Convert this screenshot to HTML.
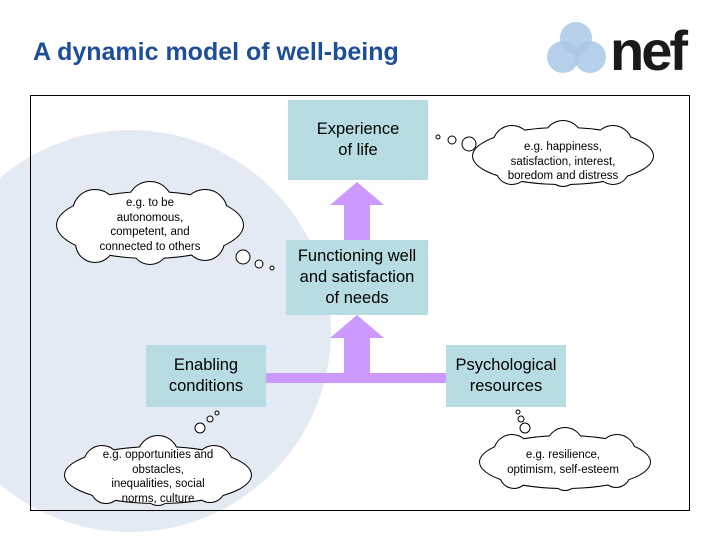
<!DOCTYPE html>
<html><head><style>
body{margin:0;width:720px;height:540px;background:#fff;overflow:hidden;position:relative;font-family:"Liberation Sans",Arial,sans-serif}
.t{position:absolute;left:33px;top:38px;font-size:25px;font-weight:bold;color:#1f4e99}
.box{position:absolute;background:#b7dde2;display:flex;align-items:center;justify-content:center;text-align:center;font-size:16.5px;line-height:21px;color:#000}
.ct{position:absolute;text-align:center;font-size:11.5px;line-height:14.5px;color:#000}
</style></head><body>
<div class="t">A dynamic model of well-being</div>
<svg width="720" height="540" style="position:absolute;left:0;top:0">
<defs>
<g id="c1">
<ellipse cx="150" cy="225" rx="93" ry="33"/>
<circle cx="95" cy="212" r="22"/><circle cx="150" cy="204" r="22"/><circle cx="205" cy="212" r="22"/>
<circle cx="95" cy="243" r="19"/><circle cx="150" cy="246" r="18"/><circle cx="205" cy="241" r="19"/>
</g>
<g id="c2">
<ellipse cx="563" cy="156" rx="90" ry="28"/>
<circle cx="512" cy="145" r="19"/><circle cx="563" cy="140" r="19"/><circle cx="613" cy="145" r="19"/>
<circle cx="512" cy="168" r="16"/><circle cx="563" cy="172" r="14"/><circle cx="613" cy="168" r="16"/>
</g>
<g id="c3">
<ellipse cx="158" cy="475" rx="93" ry="28"/>
<circle cx="102" cy="464" r="18"/><circle cx="158" cy="456" r="20"/><circle cx="214" cy="464" r="18"/>
<circle cx="106" cy="488" r="15"/><circle cx="158" cy="492" r="13"/><circle cx="210" cy="487" r="15"/>
</g>
<g id="c4">
<ellipse cx="565" cy="462" rx="85" ry="26"/>
<circle cx="512" cy="453" r="18"/><circle cx="565" cy="446" r="18"/><circle cx="617" cy="453" r="18"/>
<circle cx="514" cy="474" r="14"/><circle cx="565" cy="478" r="12"/><circle cx="616" cy="473" r="14"/>
</g>
</defs>
<circle cx="130" cy="331" r="201" fill="#e4eaf3"/>
<rect x="30.5" y="95.5" width="659" height="415" fill="none" stroke="#000"/>
<circle cx="576" cy="38" r="16" fill="#a9c7e6" opacity=".85"/>
<circle cx="563" cy="57" r="16" fill="#a9c7e6" opacity=".85"/>
<circle cx="590" cy="57" r="16" fill="#a9c7e6" opacity=".85"/>
<text x="610" y="70" font-family="Liberation Sans" font-weight="bold" font-size="56" fill="#1a1a1a" letter-spacing="-3">nef</text>
<g fill="#cc99ff">
<rect x="344" y="205" width="26" height="38"/><polygon points="330,205 357,182 384,205"/>
<rect x="344" y="338" width="26" height="40"/><polygon points="330,338 357,315 384,338"/>
<rect x="266" y="373" width="180" height="10"/>
</g>
<g stroke="#000" stroke-width="2" fill="#fff">
<use href="#c1"/><use href="#c2"/><use href="#c3"/><use href="#c4"/>
</g>
<g fill="#fff" stroke="none">
<use href="#c1"/><use href="#c2"/><use href="#c3"/><use href="#c4"/>
</g>
<g stroke="#000" stroke-width="1" fill="#fff">
<circle cx="243" cy="257" r="7"/><circle cx="259" cy="264" r="4"/><circle cx="272" cy="268" r="2"/>
<circle cx="469" cy="144" r="7"/><circle cx="452" cy="140" r="4"/><circle cx="438" cy="137" r="2"/>
<circle cx="200" cy="428" r="5"/><circle cx="210" cy="419" r="3"/><circle cx="217" cy="413" r="2"/>
<circle cx="525" cy="428" r="5"/><circle cx="521" cy="419" r="3"/><circle cx="518" cy="412" r="2"/>
</g>
</svg>
<div class="box" style="left:288px;top:100px;width:140px;height:80px">Experience<br>of life</div>
<div class="box" style="left:286px;top:240px;width:142px;height:75px">Functioning well<br>and satisfaction<br>of needs</div>
<div class="box" style="left:146px;top:345px;width:120px;height:62px">Enabling<br>conditions</div>
<div class="box" style="left:446px;top:345px;width:120px;height:62px">Psychological<br>resources</div>
<div class="ct" style="left:80px;top:196px;width:140px">e.g. to be<br>autonomous,<br>competent, and<br>connected to others</div>
<div class="ct" style="left:493px;top:140px;width:140px">e.g. happiness,<br>satisfaction, interest,<br>boredom and distress</div>
<div class="ct" style="left:83px;top:448px;width:150px">e.g. opportunities and<br>obstacles,<br>inequalities, social<br>norms, culture</div>
<div class="ct" style="left:493px;top:448px;width:140px">e.g. resilience,<br>optimism, self-esteem</div>
</body></html>
